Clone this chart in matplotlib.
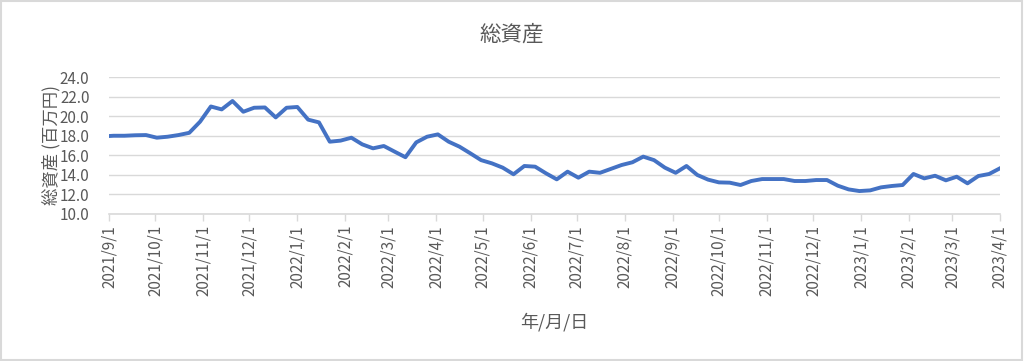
import datetime as dt
import matplotlib
matplotlib.use("Agg")
import matplotlib.pyplot as plt
import matplotlib.dates as mdates
from matplotlib.patches import Rectangle
from matplotlib.ticker import FuncFormatter, MultipleLocator

plt.rcParams['font.family'] = ['Noto Sans CJK JP', 'DejaVu Sans']

# first point on 9/1, then weekly (Saturdays) up to 2023/4/1
start = dt.date(2021, 9, 1)
first_sat = dt.date(2021, 9, 4)
dates = [start] + [first_sat + dt.timedelta(days=7 * k) for k in range(83)]

values = [
    17.97,
    18.0, 18.0, 18.05, 18.07, 17.8, 17.9, 18.07, 18.3, 19.44, 21.0,
    20.7, 21.56, 20.46, 20.87, 20.9, 19.88, 20.87, 20.95, 19.65, 19.37,
    17.39, 17.5, 17.8, 17.12, 16.71, 16.95, 16.37, 15.8, 17.32, 17.9,
    18.14, 17.39, 16.88, 16.2, 15.5, 15.17, 14.73, 14.05, 14.9, 14.83,
    14.15, 13.53, 14.32, 13.7, 14.32, 14.2, 14.6, 15.0, 15.28, 15.86,
    15.5, 14.73, 14.2, 14.9, 13.98, 13.5, 13.22, 13.19, 12.95, 13.36,
    13.56, 13.56, 13.56, 13.36, 13.36, 13.46, 13.46, 12.88, 12.5, 12.33,
    12.4, 12.71, 12.85, 12.95, 14.08, 13.63, 13.9, 13.43, 13.8, 13.12,
    13.87, 14.08, 14.66,
]

title = "総資産"
ylabel = "総資産 (百万円)"
xlabel = "年/月/日"

grey_txt = '#595959'
grid_col = '#d9d9d9'

fig = plt.figure(figsize=(10.24, 3.61), dpi=100)
ax = fig.add_axes([0.1064, 0.4078, 0.8701, 0.3783])

ax.plot(dates, values, color='#4472C4', lw=2.8, solid_joinstyle='round')

ax.set_xlim(dt.date(2021, 9, 1), dt.date(2023, 4, 1))
ax.set_ylim(10, 24)
ax.yaxis.set_major_locator(MultipleLocator(2))
ax.yaxis.set_major_formatter(FuncFormatter(lambda v, p: f"{v:.1f}"))

ax.xaxis.set_major_locator(mdates.MonthLocator(bymonthday=1))
ax.xaxis.set_major_formatter(
    FuncFormatter(lambda v, p: (lambda d: f"{d.year}/{d.month}/{d.day}")(mdates.num2date(v))))
plt.setp(ax.get_xticklabels(), rotation=90, ha='center', va='top')

ax.grid(axis='y', color=grid_col, lw=1)
ax.set_axisbelow(True)
for s in ['top', 'right', 'left']:
    ax.spines[s].set_visible(False)
ax.spines['bottom'].set_color(grid_col)
ax.spines['bottom'].set_linewidth(1.2)
ax.tick_params(axis='y', length=0, pad=14, labelsize=11, labelcolor=grey_txt)
ax.tick_params(axis='x', length=5, width=1, color=grid_col, pad=3,
               labelsize=11, labelcolor=grey_txt)

fig.text(0.5, 0.905, title, ha='center', va='center', fontsize=15.5, color=grey_txt)
fig.text(0.050, 0.598, ylabel, ha='center', va='center', rotation=90,
         fontsize=12.5, color=grey_txt)
fig.text(0.541, 0.108, xlabel, ha='center', va='center', fontsize=13, color=grey_txt)

fig.patches.append(Rectangle((0.001, 0.002), 0.997, 0.995, transform=fig.transFigure,
                             fill=False, ec=grid_col, lw=1.5))

fig.savefig('out.png', dpi=100)
